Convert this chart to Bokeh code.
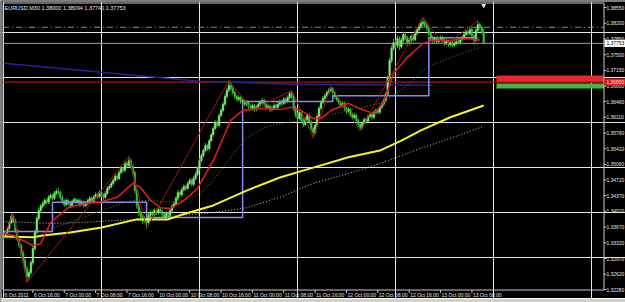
from bokeh.plotting import figure
from bokeh.models import Range1d, ColumnDataSource
from bokeh.core.properties import value
from bokeh.embed import file_html
from bokeh.resources import INLINE

# ---------------- data (EURUSD M30) ----------------
title_text = "EURUSD,M30  1.38000 1.38094 1.37740 1.37753"
first_open = 1.3345
close = [1.3348,1.3355,1.3364,1.3377,1.3390,1.3381,1.3359,1.3341,1.3326,1.3310,
1.3293,1.3275,1.3257,1.3266,1.3288,1.3319,1.3355,1.3386,1.3404,1.3413,
1.3419,1.3426,1.3422,1.3433,1.3437,1.3431,1.3442,1.3446,1.3444,1.3433,
1.3424,1.3417,1.3426,1.3419,1.3415,1.3424,1.3428,1.3422,1.3426,1.3417,
1.3422,1.3415,1.3419,1.3426,1.3431,1.3424,1.3433,1.3439,1.3435,1.3444,
1.3437,1.3433,1.3442,1.3453,1.3457,1.3464,1.3471,1.3480,1.3475,1.3488,
1.3497,1.3493,1.3508,1.3504,1.3515,1.3502,1.3488,1.3448,1.3415,1.3399,
1.3390,1.3381,1.3386,1.3377,1.3393,1.3399,1.3395,1.3404,1.3399,1.3406,
1.3402,1.3395,1.3390,1.3397,1.3393,1.3404,1.3413,1.3419,1.3431,1.3444,
1.3439,1.3450,1.3457,1.3453,1.3464,1.3471,1.3462,1.3475,1.3484,1.3497,
1.3515,1.3526,1.3537,1.3548,1.3541,1.3559,1.3572,1.3586,1.3599,1.3593,
1.3615,1.3626,1.3640,1.3657,1.3671,1.3682,1.3675,1.3666,1.3657,1.3651,
1.3655,1.3646,1.3648,1.3640,1.3644,1.3635,1.3631,1.3637,1.3628,1.3633,
1.3640,1.3644,1.3648,1.3640,1.3633,1.3635,1.3628,1.3631,1.3637,1.3633,
1.3640,1.3646,1.3642,1.3651,1.3646,1.3655,1.3664,1.3657,1.3631,1.3617,
1.3608,1.3622,1.3604,1.3595,1.3606,1.3615,1.3600,1.3586,1.3577,1.3593,
1.3613,1.3631,1.3644,1.3653,1.3659,1.3666,1.3671,1.3675,1.3666,1.3657,
1.3651,1.3644,1.3637,1.3642,1.3631,1.3624,1.3628,1.3617,1.3611,1.3615,
1.3604,1.3595,1.3588,1.3597,1.3606,1.3602,1.3613,1.3617,1.3611,1.3622,
1.3626,1.3622,1.3633,1.3640,1.3648,1.3662,1.3697,1.3737,1.3764,1.3777,
1.3771,1.3786,1.3768,1.3782,1.3795,1.3788,1.3775,1.3782,1.3791,1.3784,
1.3797,1.3806,1.3813,1.3820,1.3822,1.3815,1.3808,1.3797,1.3788,1.3782,
1.3786,1.3779,1.3784,1.3788,1.3782,1.3775,1.3779,1.3773,1.3777,1.3771,
1.3775,1.3779,1.3777,1.3784,1.3788,1.3795,1.3801,1.3797,1.3806,1.3791,
1.3782,1.3804,1.3817,1.3811,1.3800,1.37753]
high = [1.3353,1.3360,1.3368,1.3382,1.3397,1.3395,1.3385,1.3363,1.3346,1.3330,
1.3315,1.3298,1.3280,1.3271,1.3293,1.3325,1.3361,1.3392,1.3410,1.3419,
1.3425,1.3431,1.3430,1.3438,1.3442,1.3441,1.3447,1.3452,1.3455,1.3448,
1.3437,1.3429,1.3431,1.3430,1.3423,1.3428,1.3433,1.3432,1.3431,1.3430,
1.3427,1.3426,1.3424,1.3430,1.3436,1.3435,1.3438,1.3444,1.3443,1.3449,
1.3448,1.3441,1.3447,1.3458,1.3462,1.3469,1.3476,1.3486,1.3485,1.3493,
1.3503,1.3501,1.3514,1.3513,1.3524,1.3519,1.3506,1.3492,1.3453,1.3420,
1.3404,1.3395,1.3391,1.3390,1.3398,1.3404,1.3403,1.3409,1.3408,1.3411,
1.3410,1.3406,1.3399,1.3401,1.3401,1.3408,1.3418,1.3424,1.3436,1.3449,
1.3448,1.3455,1.3462,1.3461,1.3469,1.3476,1.3475,1.3480,1.3489,1.3502,
1.3520,1.3531,1.3542,1.3554,1.3552,1.3564,1.3577,1.3591,1.3605,1.3603,
1.3620,1.3631,1.3645,1.3663,1.3677,1.3693,1.3688,1.3680,1.3670,1.3661,
1.3660,1.3659,1.3653,1.3652,1.3649,1.3648,1.3639,1.3642,1.3641,1.3638,
1.3645,1.3649,1.3654,1.3652,1.3644,1.3640,1.3639,1.3636,1.3642,1.3641,
1.3645,1.3651,1.3650,1.3656,1.3655,1.3660,1.3669,1.3671,1.3661,1.3636,
1.3622,1.3628,1.3626,1.3609,1.3612,1.3620,1.3619,1.3604,1.3590,1.3598,
1.3618,1.3636,1.3649,1.3658,1.3664,1.3671,1.3676,1.3679,1.3678,1.3670,
1.3661,1.3655,1.3648,1.3647,1.3646,1.3635,1.3633,1.3632,1.3621,1.3620,
1.3619,1.3608,1.3599,1.3602,1.3611,1.3610,1.3618,1.3622,1.3621,1.3627,
1.3631,1.3630,1.3638,1.3645,1.3653,1.3668,1.3703,1.3744,1.3771,1.3785,
1.3783,1.3793,1.3791,1.3788,1.3801,1.3800,1.3792,1.3788,1.3797,1.3796,
1.3803,1.3812,1.3819,1.3827,1.3833,1.3827,1.3820,1.3813,1.3802,1.3793,
1.3791,1.3790,1.3789,1.3793,1.3792,1.3786,1.3784,1.3783,1.3782,1.3781,
1.3780,1.3784,1.3783,1.3789,1.3793,1.3800,1.3807,1.3805,1.3812,1.3810,
1.3795,1.3810,1.3826,1.3822,1.3815,1.38094]
low = [1.3338,1.3344,1.3351,1.3360,1.3373,1.3376,1.3354,1.3335,1.3320,1.3303,
1.3286,1.3268,1.3244,1.3250,1.3261,1.3283,1.3314,1.3350,1.3380,1.3398,
1.3408,1.3414,1.3417,1.3418,1.3428,1.3426,1.3427,1.3438,1.3439,1.3428,
1.3419,1.3412,1.3413,1.3415,1.3409,1.3411,1.3420,1.3418,1.3417,1.3412,
1.3413,1.3410,1.3411,1.3415,1.3422,1.3420,1.3420,1.3429,1.3430,1.3431,
1.3433,1.3428,1.3429,1.3438,1.3449,1.3453,1.3460,1.3467,1.3470,1.3471,
1.3484,1.3488,1.3489,1.3499,1.3500,1.3497,1.3482,1.3442,1.3408,1.3392,
1.3383,1.3374,1.3376,1.3364,1.3372,1.3389,1.3390,1.3391,1.3394,1.3395,
1.3397,1.3390,1.3385,1.3386,1.3388,1.3389,1.3400,1.3409,1.3415,1.3427,
1.3434,1.3435,1.3446,1.3448,1.3449,1.3460,1.3457,1.3458,1.3471,1.3480,
1.3493,1.3511,1.3522,1.3533,1.3536,1.3537,1.3555,1.3568,1.3582,1.3588,
1.3589,1.3611,1.3622,1.3636,1.3653,1.3667,1.3670,1.3661,1.3652,1.3646,
1.3647,1.3641,1.3642,1.3635,1.3636,1.3630,1.3626,1.3627,1.3623,1.3624,
1.3629,1.3636,1.3640,1.3635,1.3628,1.3629,1.3623,1.3624,1.3627,1.3628,
1.3629,1.3636,1.3637,1.3638,1.3641,1.3642,1.3651,1.3652,1.3625,1.3611,
1.3602,1.3604,1.3598,1.3589,1.3591,1.3601,1.3595,1.3580,1.3566,1.3572,
1.3589,1.3609,1.3627,1.3640,1.3648,1.3655,1.3662,1.3667,1.3661,1.3652,
1.3646,1.3639,1.3632,1.3633,1.3626,1.3619,1.3620,1.3612,1.3606,1.3607,
1.3599,1.3590,1.3581,1.3584,1.3593,1.3597,1.3598,1.3609,1.3606,1.3607,
1.3618,1.3617,1.3618,1.3629,1.3636,1.3644,1.3658,1.3692,1.3731,1.3758,
1.3764,1.3765,1.3760,1.3763,1.3777,1.3782,1.3769,1.3770,1.3777,1.3779,
1.3780,1.3792,1.3801,1.3808,1.3814,1.3810,1.3802,1.3791,1.3782,1.3776,
1.3777,1.3774,1.3775,1.3780,1.3777,1.3770,1.3771,1.3768,1.3769,1.3766,
1.3767,1.3771,1.3772,1.3773,1.3780,1.3784,1.3791,1.3792,1.3793,1.3786,
1.3776,1.3778,1.3800,1.3806,1.3795,1.37740]

# indicator lines (bar index, price)
red_ma_x = [0,5,15,19,24,33,41,49,58,66,70,75,80,85,92,99,107,116,122,133,141,146,152,158,162,167,176,182,189,194,199,206,214,219,228,237,243]
red_ma_y = [1.3353,1.3348,1.3326,1.3330,1.3377,1.3410,1.3419,1.3422,1.3433,1.3464,1.3455,1.3426,1.3410,1.3408,1.3426,1.3453,1.3515,1.3604,1.3626,1.3631,1.3628,1.3633,1.3626,1.3608,1.3608,1.3626,1.3642,1.3630,1.3619,1.3644,1.3708,1.3744,1.3775,1.3782,1.3782,1.3786,1.3782]
green_ma_x = [0,14,24,34,50,65,75,85,95,101,107,116,124,133,141,158,176,192,203,216,228,243]
green_ma_y = [1.3342,1.3337,1.3364,1.3377,1.3404,1.3426,1.3426,1.3422,1.3430,1.3442,1.3471,1.3522,1.3566,1.3588,1.3597,1.3608,1.3626,1.3642,1.3671,1.3722,1.3744,1.3766]
white_ma_x = [0,14,24,39,60,75,90,107,124,141,158,176,192,213,228,245]
white_ma_y = [1.3379,1.3377,1.3375,1.3377,1.3382,1.3386,1.3393,1.3399,1.3410,1.3433,1.3464,1.3486,1.3508,1.3542,1.3564,1.3591]
yellow_ma_x = [0,15,20,34,50,68,84,90,107,124,141,158,176,192,203,213,228,245]
yellow_ma_y = [1.3346,1.3344,1.3348,1.3355,1.3366,1.3384,1.3384,1.3393,1.3415,1.3448,1.3477,1.3499,1.3522,1.3537,1.3559,1.3582,1.3611,1.3637]
step_x = [0,25,73,122,168,217,242]
step_y = [1.3357,1.3422,1.3388,1.3646,1.3659,1.3788,1.3788]
zigzag_x = [0,5,12,64,73,115,127,147,158,167,182,214,225,242]
zigzag_y = [1.3345,1.3397,1.3244,1.3524,1.3364,1.3693,1.3626,1.3671,1.3566,1.3679,1.3581,1.3833,1.3770,1.3826]
trend_x = [0,50,100,152,219]
trend_y = [1.3731,1.3711,1.3691,1.3684,1.3682]

current_price = 1.37753
red_level = 1.3689
green_dashdot_level = 1.3811
red_zone = (1.3704, 1.3688)
green_zone = (1.3686, 1.3675)
zone_start = 251.5

price_ticks = [1.38550,1.38200,1.37850,1.37500,1.37150,1.36800,1.36460,1.36110,1.35760,1.35410,
               1.35060,1.34720,1.34370,1.34020,1.33670,1.33320,1.32970,1.32620,1.32280]
time_tick_idx = [0,15,31,47,63,79,95,111,127,143,159,175,191,207,223,239]
time_tick_lbl = ["6 Oct 2011","6 Oct 16:00","7 Oct 00:00","7 Oct 08:00","7 Oct 16:00",
                 "10 Oct 00:00","10 Oct 08:00","10 Oct 16:00","11 Oct 00:00","11 Oct 08:00",
                 "11 Oct 16:00","12 Oct 00:00","12 Oct 08:00","12 Oct 16:00","13 Oct 00:00","13 Oct 08:00"]

# ---------------- layout helpers ----------------
W, H = 625, 302
BAR_PX = 1.96
PX_PRICE = 0.0002223

def px2x(px):
    return (px - 3.0) / BAR_PX

def py2y(py):
    return 1.3855 - (py - 7.0) * PX_PRICE

FRAME_L, FRAME_R, FRAME_T, FRAME_B = 2.5, 603.5, 2.5, 289.5

p = figure(width=W, height=H, x_range=Range1d(px2x(0), px2x(W)),
           y_range=Range1d(py2y(H), py2y(0)), output_backend="svg",
           toolbar_location=None, x_axis_location=None, y_axis_location=None,
           min_border=0, background_fill_color="black", border_fill_color="black",
           outline_line_color=None)
p.min_border_left = p.min_border_right = p.min_border_top = p.min_border_bottom = 0

FONT = value("Liberation Sans")
AXIS_FS = value("4.9px")

# zones
p.quad(left=[zone_start], right=[px2x(FRAME_R)], top=[red_zone[0]], bottom=[red_zone[1]],
       fill_color="#E8262B", line_color=None)
p.quad(left=[zone_start], right=[px2x(FRAME_R)], top=[green_zone[0]], bottom=[green_zone[1]],
       fill_color="#43B649", line_color=None)

# horizontal levels
xl, xr = px2x(FRAME_L), px2x(FRAME_R)
p.segment(x0=[xl], y0=[green_dashdot_level], x1=[xr], y1=[green_dashdot_level],
          line_color="#6E9A6E", line_width=1, line_dash="6 3 1 3")
p.segment(x0=[xl], y0=[current_price], x1=[xr], y1=[current_price],
          line_color="#A0A0A0", line_width=1)
p.segment(x0=[xl], y0=[red_level], x1=[xr], y1=[red_level],
          line_color="#9A1A1A", line_width=1.2)
p.line(trend_x, trend_y, line_color="#22229A", line_width=1.5)

# candles
opens = [first_open] + close[:-1]
idx = list(range(len(close)))
src = ColumnDataSource(dict(
    x=idx, h=high, l=low,
    top=[max(o, c) for o, c in zip(opens, close)],
    bot=[min(o, c) for o, c in zip(opens, close)],
    col=["#86EE76" if c >= o else "#38C038" for o, c in zip(opens, close)]))
p.segment(x0="x", y0="l", x1="x", y1="h", source=src, line_color="#2DB82D", line_width=1)
p.vbar(x="x", width=0.8, top="top", bottom="bot", source=src,
       fill_color="col", line_color="col", line_width=0.5)

# indicators
p.step(step_x, step_y, mode="after", line_color="#8A8AEE", line_width=1.5)
p.line(white_ma_x, white_ma_y, line_color="#C8C8C8", line_width=1, line_dash="1 2")
p.line(green_ma_x, green_ma_y, line_color="#3F8F3F", line_width=1, line_dash="1 2")
p.line(yellow_ma_x, yellow_ma_y, line_color="#F2F230", line_width=2)
p.line(red_ma_x, red_ma_y, line_color="#E41E1E", line_width=1.5)
p.line(zigzag_x, zigzag_y, line_color="#A01414", line_width=1)

# frame
fb, ft = py2y(FRAME_B), py2y(FRAME_T)
p.segment(x0=[px2x(FRAME_L), px2x(FRAME_L), px2x(FRAME_L), px2x(FRAME_R)],
          y0=[fb, ft, fb, fb],
          x1=[px2x(FRAME_L), px2x(FRAME_R), px2x(FRAME_R), px2x(FRAME_R)],
          y1=[ft, ft, fb, ft], line_color="#C8C8C8", line_width=1)

# window chrome
p.quad(left=[px2x(0)], right=[px2x(W)], top=[py2y(0)], bottom=[py2y(1.5)],
       fill_color="#7A7A7A", line_color=None)
p.quad(left=[px2x(0)], right=[px2x(1.5)], top=[py2y(0)], bottom=[py2y(H)],
       fill_color="#7A7A7A", line_color=None)
p.quad(left=[px2x(0)], right=[px2x(W)], top=[py2y(298)], bottom=[py2y(H)],
       fill_color="#D4D0C8", line_color=None)
p.segment(x0=[px2x(0)], y0=[py2y(298)], x1=[px2x(W)], y1=[py2y(298)],
          line_color="white", line_width=1)

# price axis ticks + labels
p.segment(x0=[px2x(FRAME_R)] * len(price_ticks), y0=price_ticks,
          x1=[px2x(FRAME_R + 2.5)] * len(price_ticks), y1=price_ticks,
          line_color="#C8C8C8", line_width=1)
p.text(x=[px2x(606)] * len(price_ticks), y=price_ticks,
       text=["%.5f" % v for v in price_ticks], text_font=FONT,
       text_font_size=AXIS_FS, text_color="#E8E8E8",
       text_align="left", text_baseline="middle")

# current price box and red level box
hh = 3.6 * PX_PRICE
p.quad(left=[px2x(604)], right=[px2x(W)], top=[current_price + hh], bottom=[current_price - hh],
       fill_color="white", line_color=None)
p.text(x=[px2x(606)], y=[current_price], text=["%.5f" % current_price], text_font=FONT,
       text_font_size=AXIS_FS, text_color="black", text_align="left", text_baseline="middle")
p.quad(left=[px2x(604)], right=[px2x(W)], top=[red_level + hh], bottom=[red_level - hh],
       fill_color="#E02020", line_color=None)
p.text(x=[px2x(606)], y=[red_level], text=["%.5f" % red_level], text_font=FONT,
       text_font_size=AXIS_FS, text_color="#FFD0D0", text_align="left", text_baseline="middle")

# time axis ticks + labels
ty0, ty1 = py2y(FRAME_B), py2y(FRAME_B + 3)
p.segment(x0=time_tick_idx, y0=[ty0] * len(time_tick_idx), x1=time_tick_idx,
          y1=[ty1] * len(time_tick_idx), line_color="#C8C8C8", line_width=1)
p.text(x=[i + 0.5 for i in time_tick_idx], y=[py2y(294.5)] * len(time_tick_idx),
       text=time_tick_lbl, text_font=FONT, text_font_size=value("5px"),
       text_color="#E8E8E8", text_align="left", text_baseline="middle")

# title + shift marker
p.text(x=[px2x(4)], y=[py2y(7.5)], text=[title_text], text_font=FONT,
       text_font_size=value("5.5px"), text_color="#E8E8E8", text_align="left",
       text_baseline="middle")
p.scatter(x=[len(close) - 1], y=[py2y(5)], marker="inverted_triangle", size=5,
          fill_color="#DDDDDD", line_color=None)

open("out.html", "w").write(file_html(p, INLINE))
